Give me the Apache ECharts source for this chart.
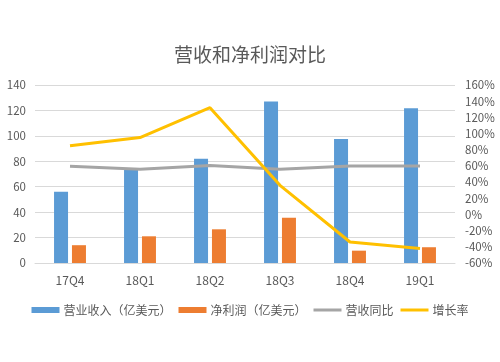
<!DOCTYPE html>
<html><head><meta charset="utf-8">
<script src="https://cdn.jsdelivr.net/npm/echarts@6/dist/echarts.min.js"></script>
<style>html,body{margin:0;padding:0;background:#fff}#c{width:500px;height:362px}</style>
</head><body><div id="c"></div>
<script>
const categories = ['17Q4','18Q1','18Q2','18Q3','18Q4','19Q1'];
const revenue = [56, 74, 82, 127, 97.5, 121.7];
const netProfit = [14, 21, 26.5, 35.6, 9.7, 12.4];
const revenueYoY = [59.5, 56, 60.5, 56, 60, 60];
const growthRate = [85, 95, 132, 36, -34, -42];
const leftTicks = {min: 0, max: 140, interval: 20};
const rightTicks = {min: -60, max: 160, interval: 20};

const font = '"Noto Sans CJK SC", "Noto Sans", sans-serif';
const lineIcon = 'path://M0,0M28,6M0,1.5L28,1.5L28,4.5L0,4.5Z';
const chart = echarts.init(document.getElementById('c'));
chart.setOption({
  animation: false,
  title: {text: '营收和净利润对比', left: 'center', top: 40,
    textStyle: {fontSize: 19, fontWeight: 'normal', color: '#595959', fontFamily: font}},
  grid: {left: 35, right: 45, top: 85, bottom: 99},
  legend: {top: 299, left: 'center', itemWidth: 28, itemHeight: 6, itemGap: 7,
    textStyle: {fontSize: 12, color: '#595959', fontFamily: font, padding: [0, 0, 0, -1]},
    data: [
      {name: '营业收入（亿美元）', icon: 'rect'},
      {name: '净利润（亿美元）', icon: 'rect'},
      {name: '营收同比', icon: lineIcon, itemStyle: {color: '#a5a5a5', borderWidth: 0}},
      {name: '增长率', icon: lineIcon, itemStyle: {color: '#ffc000', borderWidth: 0}}
    ]},
  xAxis: {type: 'category', data: categories,
    axisLine: {lineStyle: {color: '#d9d9d9'}}, axisTick: {show: false},
    axisLabel: {color: '#595959', fontSize: 12, fontFamily: font, margin: 11}},
  yAxis: [
    {type: 'value', min: leftTicks.min, max: leftTicks.max, interval: leftTicks.interval,
      axisLine: {show: false}, axisTick: {show: false},
      splitLine: {lineStyle: {color: '#d9d9d9'}},
      axisLabel: {color: '#595959', fontSize: 11.5, fontFamily: font, margin: 9}},
    {type: 'value', min: rightTicks.min, max: rightTicks.max, interval: rightTicks.interval,
      axisLine: {show: false}, axisTick: {show: false}, splitLine: {show: false},
      axisLabel: {color: '#595959', fontSize: 11.5, fontFamily: font, margin: 10, formatter: '{value}%'}}
  ],
  series: [
    {name: '营业收入（亿美元）', type: 'bar', data: revenue, barWidth: 14, barGap: '28%',
      itemStyle: {color: '#5b9bd5'}},
    {name: '净利润（亿美元）', type: 'bar', data: netProfit, barWidth: 14,
      itemStyle: {color: '#ed7d31'}},
    {name: '营收同比', type: 'line', yAxisIndex: 1, data: revenueYoY, symbol: 'none',
      lineStyle: {color: '#a5a5a5', width: 3}, itemStyle: {color: '#a5a5a5'}},
    {name: '增长率', type: 'line', yAxisIndex: 1, data: growthRate, symbol: 'none',
      lineStyle: {color: '#ffc000', width: 3}, itemStyle: {color: '#ffc000'}}
  ]
});
</script></body></html>
